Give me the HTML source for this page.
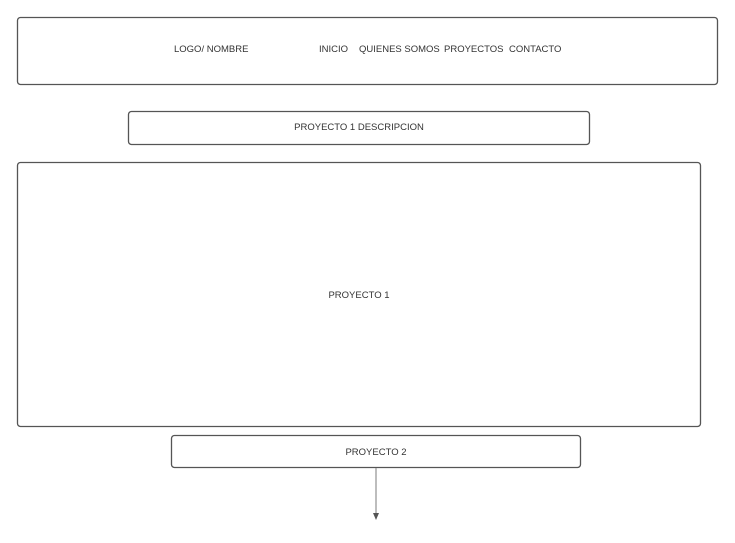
<!DOCTYPE html>
<html><head><meta charset="utf-8"><style>
body{margin:0;width:735px;height:538px;background:#fff;overflow:hidden}
svg text{font-family:"Liberation Sans",sans-serif;font-size:9.5px;fill:#333}
</style></head><body>
<svg width="735" height="538" xmlns="http://www.w3.org/2000/svg">
<g fill="none" stroke="#555" stroke-width="1.3">
<rect x="17.5" y="17.5" width="700" height="67" rx="3"/>
<rect x="128.5" y="111.5" width="461" height="33" rx="3"/>
<rect x="17.5" y="162.5" width="683" height="264" rx="3"/>
<rect x="171.5" y="435.5" width="409" height="32" rx="3"/>
</g>
<line x1="376" y1="468" x2="376" y2="514" stroke="#999" stroke-width="1.3"/>
<polygon points="373,513 379,513 376,520" fill="#555"/>
<text x="174" y="52">LOGO/ NOMBRE</text>
<text x="319" y="52">INICIO</text>
<text x="359" y="52">QUIENES SOMOS</text>
<text x="444" y="52">PROYECTOS</text>
<text x="509" y="52">CONTACTO</text>
<text x="359" y="130" text-anchor="middle">PROYECTO 1 DESCRIPCION</text>
<text x="359" y="298" text-anchor="middle">PROYECTO 1</text>
<text x="376" y="455" text-anchor="middle">PROYECTO 2</text>
</svg>
</body></html>
